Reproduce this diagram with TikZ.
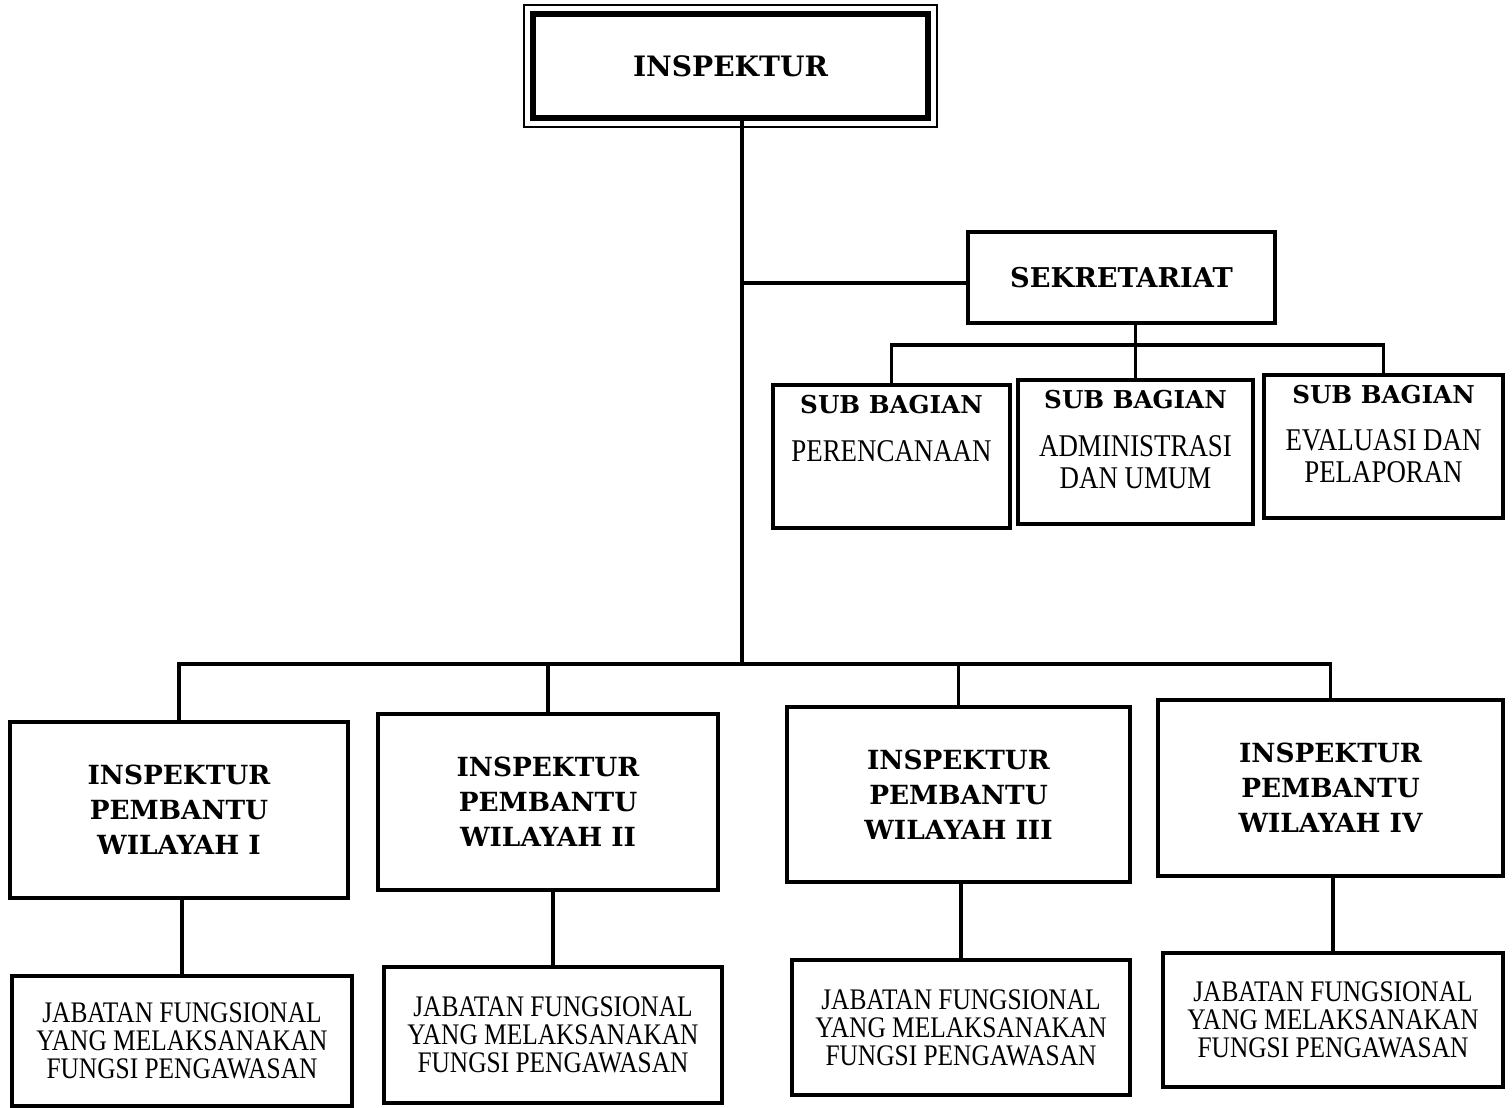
\documentclass[tikz,border=0pt]{standalone}
\usepackage{fontspec}
\setmainfont{Liberation Serif}
\newfontfamily\hdfont{DejaVu Serif}
\newfontfamily\cdfont[FakeStretch=0.85]{Liberation Serif}
\usetikzlibrary{calc}
\begin{document}
\begin{tikzpicture}[x=0.02cm,y=-0.02cm,
  box/.style={draw, line width=1.8pt, inner sep=0pt},
  bx/.style 2 args={minimum width=#1*0.02cm, minimum height=#2*0.02cm},
  conn/.style={line width=1.8pt},
  hdtop/.style={font=\hdfont\bfseries\fontsize{16}{20}\selectfont},
  hdsek/.style={font=\hdfont\bfseries\fontsize{15.5}{20}\selectfont},
  hdw/.style={font=\hdfont\bfseries\fontsize{15}{19.9}\selectfont, align=center},
  hdsub/.style={font=\hdfont\bfseries\fontsize{14}{18}\selectfont, inner sep=0pt, anchor=base},
  rgsub/.style={font=\cdfont\fontsize{18}{18}\selectfont, inner sep=0pt, anchor=base},
  rgj/.style={font=\cdfont\fontsize{17}{16}\selectfont, align=center}]
\useasboundingbox (0,0) rectangle (1512,1107);
\fill[white] (0,0) rectangle (1512,1107);

% top
\node[box, line width=3.2pt, bx={395}{104}, hdtop] (top) at (730.5,66) {INSPEKTUR};
\draw[line width=0.9pt] ($(top.north west)+(-6,-6)$) rectangle ($(top.south east)+(6,6)$);

% sekretariat
\node[box, bx={307}{91}, hdsek] (sek) at (1121.5,277.5) {SEKRETARIAT};

% sub bagian boxes
\node[box, bx={237}{143}] (s1) at (891.5,456.5) {};
\node[box, bx={235}{144}] (s2) at (1135.5,452) {};
\node[box, bx={239}{143}] (s3) at (1383.5,446.5) {};
\node[hdsub] (s1a) at ($(s1.north)+(0,30)$) {SUB BAGIAN};
\node[rgsub] (s1b) at ($(s1.north)+(0,78)$) {PERENCANAAN};
\node[hdsub] (s2a) at ($(s2.north)+(0,30)$) {SUB BAGIAN};
\node[rgsub] (s2b) at ($(s2.north)+(0,78)$) {ADMINISTRASI};
\node[rgsub] (s2c) at ($(s2.north)+(0,110)$) {DAN UMUM};
\node[hdsub] (s3a) at ($(s3.north)+(0,30)$) {SUB BAGIAN};
\node[rgsub] (s3b) at ($(s3.north)+(0,77)$) {EVALUASI DAN};
\node[rgsub] (s3c) at ($(s3.north)+(0,109)$) {PELAPORAN};

% wilayah boxes
\node[box, bx={338}{176}, hdw] (w1) at (179,810) {INSPEKTUR\\PEMBANTU\\WILAYAH I};
\node[box, bx={340}{176}, hdw] (w2) at (548,802) {INSPEKTUR\\PEMBANTU\\WILAYAH II};
\node[box, bx={343}{175}, hdw] (w3) at (958.5,794.5) {INSPEKTUR\\PEMBANTU\\WILAYAH III};
\node[box, bx={345}{176}, hdw] (w4) at (1330.5,788) {INSPEKTUR\\PEMBANTU\\WILAYAH IV};

% jabatan boxes
\node[box, bx={340}{130}, rgj] (j1) at (182,1041) {JABATAN FUNGSIONAL\\YANG MELAKSANAKAN\\FUNGSI PENGAWASAN};
\node[box, bx={338}{136}, rgj] (j2) at (553,1035) {JABATAN FUNGSIONAL\\YANG MELAKSANAKAN\\FUNGSI PENGAWASAN};
\node[box, bx={338}{135}, rgj] (j3) at (961,1027.5) {JABATAN FUNGSIONAL\\YANG MELAKSANAKAN\\FUNGSI PENGAWASAN};
\node[box, bx={340}{134}, rgj] (j4) at (1333,1020) {JABATAN FUNGSIONAL\\YANG MELAKSANAKAN\\FUNGSI PENGAWASAN};

% connectors
\coordinate (bbus) at (742,664);
\coordinate (sbus) at (1135.5,345);
\coordinate (sekj) at (968,283);
\draw[conn] (top.south -| bbus) -- (bbus);
\draw[conn] (sekj) -- (sekj -| bbus);
\draw[conn] (s2.north) -- (s2.north |- sek.south);
\draw[conn] (s1.north) |- (sbus) -| (s3.north);
\draw[conn] (w1.north) |- (bbus) -| (w4.north);
\draw[conn] (w2.north) -- (w2.north |- bbus);
\draw[conn] (w3.north) -- (w3.north |- bbus);
\draw[conn] (j1.north) -- (j1.north |- w1.south);
\draw[conn] (j2.north) -- (j2.north |- w2.south);
\draw[conn] (j3.north) -- (j3.north |- w3.south);
\draw[conn] (j4.north) -- (j4.north |- w4.south);
\end{tikzpicture}
\end{document}
